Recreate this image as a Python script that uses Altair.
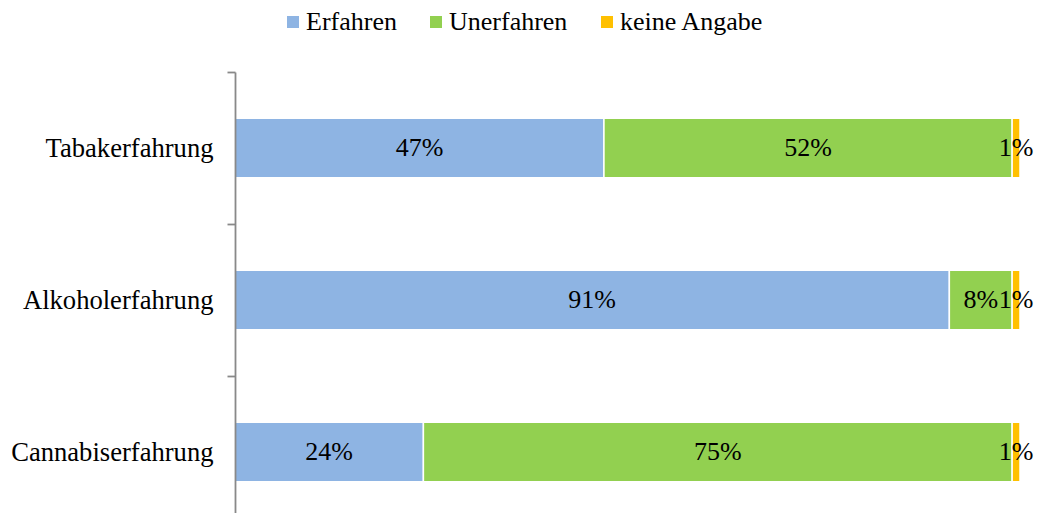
import altair as alt
import pandas as pd

categories = ["Tabakerfahrung", "Alkoholerfahrung", "Cannabiserfahrung"]
series = ["Erfahren", "Unerfahren", "keine Angabe"]
erfahren = [47, 91, 24]
unerfahren = [52, 8, 75]
keine_angabe = [1, 1, 1]
colors = ["#8EB4E3", "#92D050", "#FFC000"]

rows = []
for i, c in enumerate(categories):
    for j, (s, vals) in enumerate(zip(series, [erfahren, unerfahren, keine_angabe])):
        rows.append({"Kategorie": c, "Gruppe": s, "Wert": vals[i], "Ordnung": j})
df = pd.DataFrame(rows)

FONT = "Liberation Serif, 'Times New Roman', DejaVu Serif, serif"

base = alt.Chart(df).transform_stack(
    stack="Wert", groupby=["Kategorie"], sort=[alt.SortField("Ordnung")], as_=["x0", "x1"]
).transform_calculate(
    xm="(datum.x0 + datum.x1) / 2", label="datum.Wert + '%'"
)

yscale = alt.Scale(range=[0, 456], paddingInner=0, paddingOuter=0)
xscale = alt.Scale(domain=[0, 100], nice=False)

y = alt.Y(
    "Kategorie:N", sort=categories, title=None, scale=yscale,
    axis=alt.Axis(
        tickBand="extent", domainColor="#898989", domainWidth=1.8,
        tickColor="#898989", tickWidth=1.8, tickSize=8, labelPadding=14,
        labelFont=FONT, labelFontSize=26.6, labelColor="black", labelLimit=400,
        grid=False, zindex=1,
    ),
)

bars = base.mark_bar(stroke="white", strokeWidth=1.5, height=alt.RelativeBandSize(0.39)).encode(
    x=alt.X("x0:Q", scale=xscale, axis=None),
    x2="x1:Q",
    y=y,
    color=alt.Color(
        "Gruppe:N",
        scale=alt.Scale(domain=series, range=colors),
        legend=alt.Legend(
            title=None, orient="none", legendX=45, legendY=-63, direction="horizontal",
            symbolType="square", symbolSize=144, symbolStrokeWidth=0,
            labelFont=FONT, labelFontSize=26, labelColor="black", labelOffset=0,
            columnPadding=26,
        ),
    ),
    order=alt.Order("Ordnung:Q"),
)

text = base.mark_text(font=FONT, fontSize=26, color="black").encode(
    x=alt.X("xm:Q", scale=xscale, axis=None),
    y=alt.Y("Kategorie:N", sort=categories, scale=yscale),
    text="label:N",
)

chart = alt.layer(bars, text).properties(
    width=785, height=441,
    autosize=alt.AutoSizeParams(type="none"),
    padding={"left": 227, "top": 64, "right": 15, "bottom": 0},
).configure_view(stroke=None)

chart.save("out.html", embed_options={"renderer": "svg", "actions": False})
